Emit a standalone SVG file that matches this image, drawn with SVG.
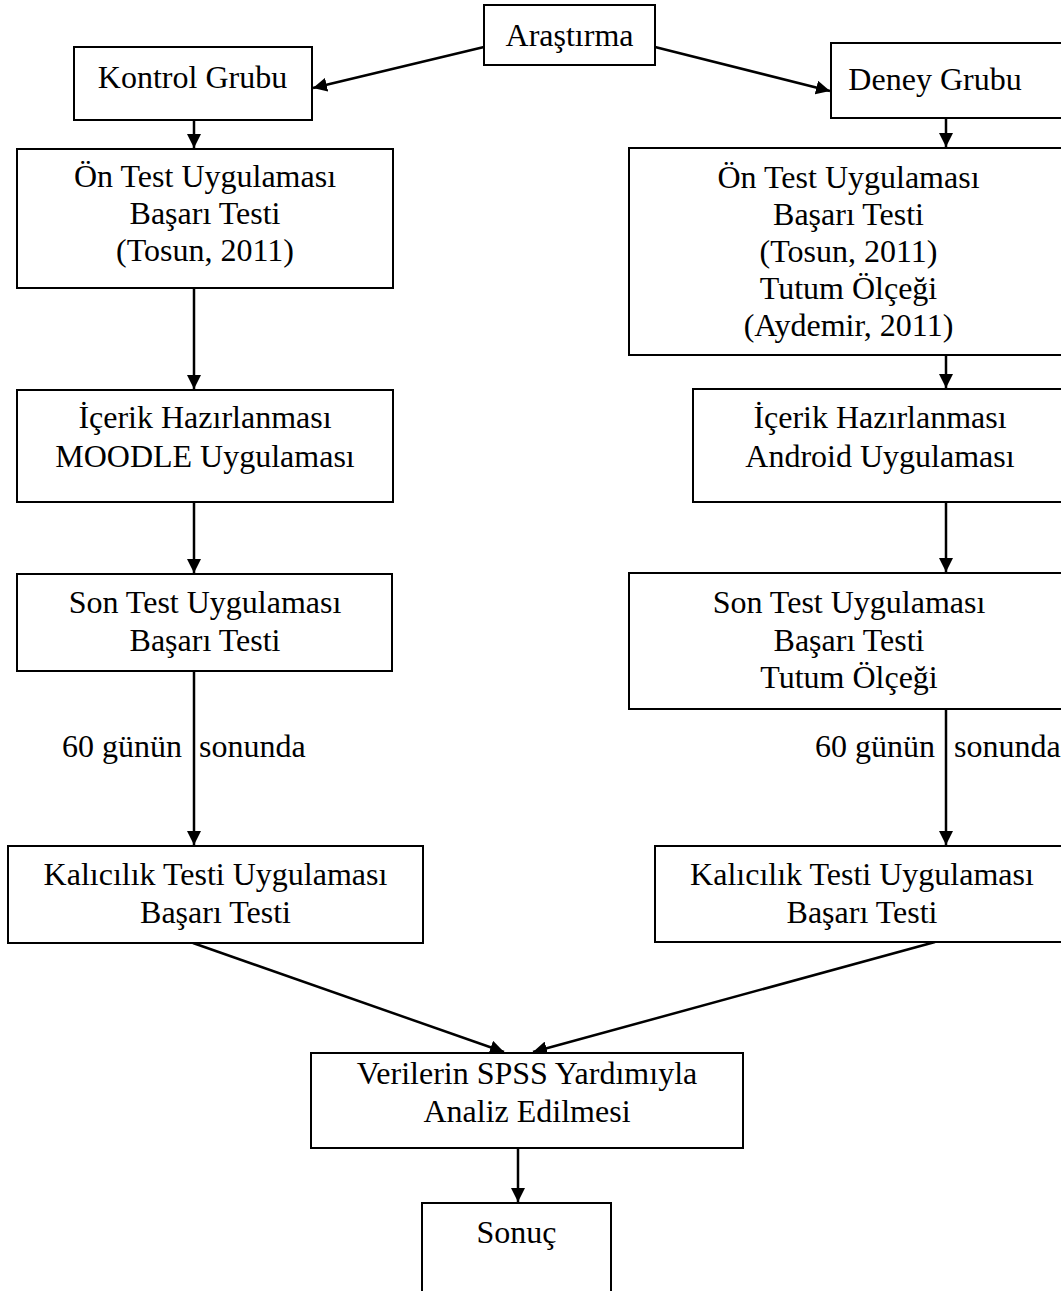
<svg xmlns="http://www.w3.org/2000/svg" width="1061" height="1291" viewBox="0 0 1061 1291">
<style>
.box{fill:#fff;stroke:#000;stroke-width:2}
.t{font-family:"Liberation Serif","Times New Roman",serif;font-size:32px;fill:#000;text-anchor:middle}
.ts{font-family:"Liberation Serif","Times New Roman",serif;font-size:32px;fill:#000}
.c{stroke:#000;stroke-width:2.5;fill:none;marker-end:url(#ah)}
</style>
<defs>
<marker id="ah" markerUnits="userSpaceOnUse" markerWidth="14" markerHeight="14" refX="14" refY="7" orient="auto">
<path d="M0,0 L14,7 L0,14 z" fill="#000"/>
</marker>
</defs>
<rect width="1061" height="1291" fill="#fff"/>
<g id="connectors">
<line class="c" x1="484" y1="47" x2="313" y2="88"/>
<line class="c" x1="655" y1="47" x2="830" y2="91"/>
<line class="c" x1="194" y1="120" x2="194" y2="148"/>
<line class="c" x1="946" y1="118" x2="946" y2="147"/>
<line class="c" x1="194" y1="288" x2="194" y2="389"/>
<line class="c" x1="946" y1="355" x2="946" y2="388"/>
<line class="c" x1="194" y1="502" x2="194" y2="573"/>
<line class="c" x1="946" y1="502" x2="946" y2="572"/>
<line class="c" x1="194" y1="671" x2="194" y2="845"/>
<line class="c" x1="946" y1="709" x2="946" y2="845"/>
<line class="c" x1="193" y1="943" x2="504" y2="1052"/>
<line class="c" x1="935" y1="942" x2="533" y2="1052"/>
<line class="c" x1="518" y1="1148" x2="518" y2="1202"/>
</g>
<g id="arastirma"><rect class="box" x="484" y="5" width="171" height="60"/><text class="t" x="569.5" y="46">Araştırma</text></g>
<g id="kontrol"><rect class="box" x="74" y="47" width="238" height="73"/><text class="t" x="192.5" y="88">Kontrol Grubu</text></g>
<g id="deney"><rect class="box" x="831" y="43" width="260" height="75"/><text class="t" x="935" y="90">Deney Grubu</text></g>
<g id="ontest-k"><rect class="box" x="17" y="149" width="376" height="139"/>
<text class="t" x="205" y="187">Ön Test Uygulaması</text><text class="t" x="205" y="224">Başarı Testi</text><text class="t" x="205" y="261">(Tosun, 2011)</text></g>
<g id="ontest-d"><rect class="box" x="629" y="148" width="462" height="207"/>
<text class="t" x="848.5" y="188">Ön Test Uygulaması</text><text class="t" x="848.5" y="225">Başarı Testi</text><text class="t" x="848.5" y="262">(Tosun, 2011)</text><text class="t" x="848.5" y="299">Tutum Ölçeği</text><text class="t" x="848.5" y="336">(Aydemir, 2011)</text></g>
<g id="icerik-k"><rect class="box" x="17" y="390" width="376" height="112"/>
<text class="t" x="205" y="428">İçerik Hazırlanması</text><text class="t" x="205" y="467">MOODLE Uygulaması</text></g>
<g id="icerik-d"><rect class="box" x="693" y="389" width="398" height="113"/>
<text class="t" x="880" y="428">İçerik Hazırlanması</text><text class="t" x="880" y="467">Android Uygulaması</text></g>
<g id="sontest-k"><rect class="box" x="17" y="574" width="375" height="97"/>
<text class="t" x="205" y="613">Son Test Uygulaması</text><text class="t" x="205" y="651">Başarı Testi</text></g>
<g id="sontest-d"><rect class="box" x="629" y="573" width="462" height="136"/>
<text class="t" x="849" y="613">Son Test Uygulaması</text><text class="t" x="849" y="651">Başarı Testi</text><text class="t" x="849" y="688">Tutum Ölçeği</text></g>
<g id="label-k"><text class="ts" x="182" y="757" text-anchor="end">60 günün</text><text class="ts" x="199" y="757">sonunda</text></g>
<g id="label-d"><text class="ts" x="935" y="757" text-anchor="end">60 günün</text><text class="ts" x="954" y="757">sonunda</text></g>
<g id="kalicilik-k"><rect class="box" x="8" y="846" width="415" height="97"/>
<text class="t" x="215.5" y="885">Kalıcılık Testi Uygulaması</text><text class="t" x="215.5" y="923">Başarı Testi</text></g>
<g id="kalicilik-d"><rect class="box" x="655" y="846" width="436" height="96"/>
<text class="t" x="862" y="885">Kalıcılık Testi Uygulaması</text><text class="t" x="862" y="923">Başarı Testi</text></g>
<g id="spss"><rect class="box" x="311" y="1053" width="432" height="95"/>
<text class="t" x="527" y="1084">Verilerin SPSS Yardımıyla</text><text class="t" x="527" y="1122">Analiz Edilmesi</text></g>
<g id="sonuc"><rect class="box" x="422" y="1203" width="189" height="110"/><text class="t" x="516.5" y="1243">Sonuç</text></g>
</svg>
